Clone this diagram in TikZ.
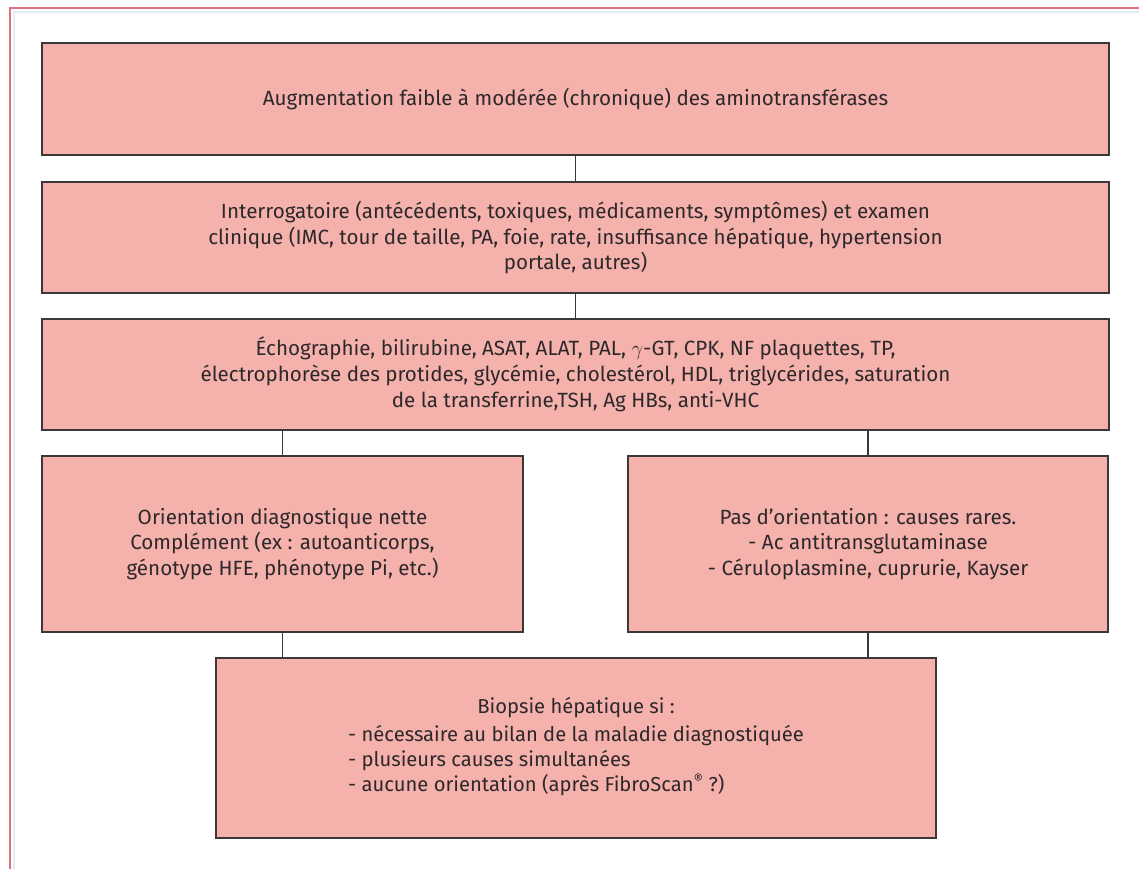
\documentclass[tikz,border=0pt]{standalone}
\usepackage{fontspec}
\setmainfont{Fira Sans}
\definecolor{boxfill}{RGB}{245,177,172}
\definecolor{boxline}{RGB}{60,56,58}
\definecolor{framered}{RGB}{226,112,122}
\definecolor{txt}{RGB}{45,40,42}
\begin{document}
\begin{tikzpicture}[x=1pt,y=-1pt,
  box/.style={draw=boxline, line width=1.6pt, fill=boxfill, align=center, inner sep=0pt, text=txt,
    font=\fontsize{20.6}{25.8}\selectfont},
  conn/.style={draw=boxline, line width=1.6pt},
  frame/.style={draw=framered, line width=1.5pt}]
\useasboundingbox (0,0) rectangle (1139,869);
\fill[white] (0,0) rectangle (1139,869);
\draw[frame] (10,869) -- (10,8) -- (1139,8);
\draw[draw={rgb,255:red,228;green,236;blue,244}, line width=2pt] (14,869) -- (14,12) -- (1139,12);

\node[box, minimum width=1067pt, minimum height=112pt] (b1) at (575.5,99)
  {Augmentation faible à modérée (chronique) des aminotransférases};
\node[box, minimum width=1067pt, minimum height=111pt] (b2) at (575.5,237.5)
  {Interrogatoire (antécédents, toxiques, médicaments, symptômes) et examen\\
   clinique (IMC, tour de taille, PA, foie, rate, insuffisance hépatique, hypertension\\
   portale, autres)};
\node[box, minimum width=1067pt, minimum height=111pt] (b3) at (575.5,374.5)
  {Échographie, bilirubine, ASAT, ALAT, PAL, $\gamma$-GT, CPK, NF plaquettes, TP,\\
   électrophorèse des protides, glycémie, cholestérol, HDL, triglycérides, saturation\\
   de la transferrine,TSH, Ag HBs, anti-VHC};
\node[box, minimum width=481pt, minimum height=176pt] (b4l) at (282.5,544)
  {Orientation diagnostique nette\\
   Complément (ex : autoanticorps,\\
   génotype HFE, phénotype Pi, etc.)};
\node[box, minimum width=480pt, minimum height=176pt] (b4r) at (868,544)
  {Pas d’orientation : causes rares.\\
   - Ac antitransglutaminase\\
   - Céruloplasmine, cuprurie, Kayser};
\node[box, minimum width=720pt, minimum height=180pt, font=\fontsize{20.2}{24.5}\selectfont] (b5) at (576,748)
  {Biopsie hépatique si :\\[6pt]
   \begin{tabular}{@{}l@{}}
   - nécessaire au bilan de la maladie diagnostiquée\\
   - plusieurs causes simultanées\\
   - aucune orientation (après FibroScan\textsuperscript{®} ?)
   \end{tabular}};

\draw[conn] (b1.south) -- (b2.north);
\draw[conn] (b2.south) -- (b3.north);
\draw[conn] (b4l.north) -- (b4l.north |- b3.south);
\draw[conn] (b4r.north) -- (b4r.north |- b3.south);
\draw[conn] (b4l.south) -- (b4l.south |- b5.north);
\draw[conn] (b4r.south) -- (b4r.south |- b5.north);
\end{tikzpicture}
\end{document}
